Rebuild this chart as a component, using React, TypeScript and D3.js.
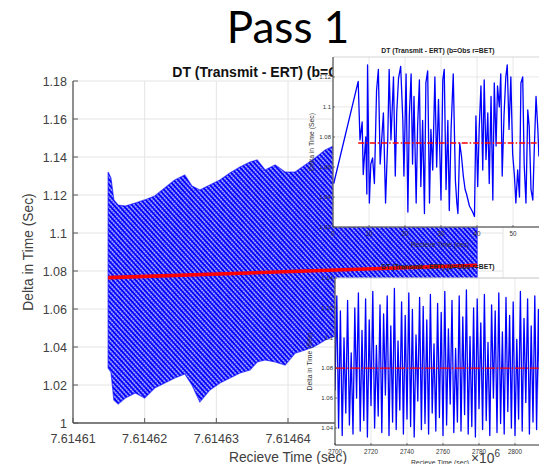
import * as d3 from 'd3';
import React from 'react';

// main scatter: observed cloud envelope (time x1e6 sec, delta sec)
const cloudTimes = [7.6146149, 7.6146153, 7.6146157, 7.6146163, 7.6146173, 7.6146187, 7.61462, 7.6146214, 7.6146228, 7.6146242, 7.6146256, 7.6146266, 7.6146277, 7.6146291, 7.6146305, 7.6146319, 7.6146333, 7.6146347, 7.6146357, 7.6146368, 7.6146382, 7.6146396, 7.614641, 7.6146424, 7.6146438, 7.6146452, 7.6146466, 7.61465, 7.6146556, 7.6146612, 7.6146664];
const cloudUpper = [1.1321, 1.1289, 1.1174, 1.1147, 1.1142, 1.1158, 1.1174, 1.1195, 1.1237, 1.1279, 1.1305, 1.1247, 1.1226, 1.1253, 1.1279, 1.1316, 1.1347, 1.1374, 1.1384, 1.1332, 1.1358, 1.1321, 1.1321, 1.1358, 1.1395, 1.1437, 1.1463, 1.149, 1.1516, 1.154, 1.154];
const cloudLower = [1.0289, 1.0268, 1.0121, 1.01, 1.0132, 1.0158, 1.0132, 1.0184, 1.0211, 1.0237, 1.0258, 1.02, 1.0111, 1.0174, 1.0211, 1.0237, 1.0263, 1.0279, 1.0321, 1.0332, 1.0321, 1.0305, 1.0368, 1.0384, 1.0405, 1.0437, 1.0458, 1.049, 1.054, 1.057, 1.059];
const betTimes = [7.6146149, 7.6146664];
const betDelta = [1.0765, 1.083];
const mainXTicks = [7.61461, 7.61462, 7.61463, 7.61464, 7.61465, 7.61466, 7.61467];
const mainYTicks = [1, 1.02, 1.04, 1.06, 1.08, 1.1, 1.12, 1.14, 1.16, 1.18];

// upper zoom window
const zoomATimes = [0.2, 7.0, 7.5, 8.1, 8.4, 9.1, 9.4, 9.6, 10.1, 10.5, 11.0, 11.5, 12.1, 12.6, 13.1, 14.0, 14.6, 15.2, 15.6, 16.1, 16.8, 17.3, 17.7, 18.2, 18.8, 19.4, 19.7, 20.3, 20.8, 21.2, 21.7, 22.1, 22.5, 23.1, 23.5, 24.0, 24.4, 24.9, 25.4, 25.8, 26.3, 26.8, 27.2, 27.7, 28.3, 28.8, 29.3, 30.0, 30.5, 30.9, 31.4, 31.9, 32.3, 32.8, 33.4, 34.0, 34.4, 34.7, 35.2, 35.7, 36.2, 36.7, 37.1, 37.9, 38.8, 39.3, 39.7, 40.2, 40.6, 41.1, 41.6, 42.0, 42.5, 43.0, 43.4, 43.9, 44.4, 44.8, 45.3, 45.7, 46.2, 46.6, 47.0, 47.5, 48.0, 48.4, 48.9, 49.4, 49.9, 50.4, 50.8, 51.3, 51.8, 52.2, 52.7, 53.1, 53.6, 54.1, 54.5, 55.0, 55.5, 55.9, 56.4, 56.9, 57.2];
const zoomADelta = [1.049, 1.117, 1.078, 1.090, 1.055, 1.080, 1.042, 1.128, 1.036, 1.062, 1.066, 1.049, 1.111, 1.125, 1.062, 1.096, 1.036, 1.078, 1.125, 1.078, 1.120, 1.054, 1.096, 1.119, 1.127, 1.091, 1.054, 1.122, 1.030, 1.094, 1.122, 1.062, 1.107, 1.036, 1.087, 1.118, 1.047, 1.091, 1.029, 1.116, 1.124, 1.036, 1.085, 1.058, 1.120, 1.060, 1.105, 1.038, 1.118, 1.125, 1.045, 1.091, 1.031, 1.085, 1.122, 1.051, 1.036, 1.029, 1.076, 1.067, 1.054, 1.045, 1.042, 1.034, 1.030, 1.027, 1.094, 1.047, 1.085, 1.114, 1.058, 1.118, 1.065, 1.096, 1.049, 1.107, 1.038, 1.116, 1.074, 1.114, 1.100, 1.122, 1.054, 1.094, 1.120, 1.128, 1.085, 1.120, 1.069, 1.054, 1.036, 1.058, 1.040, 1.116, 1.120, 1.062, 1.036, 1.098, 1.087, 1.045, 1.038, 1.071, 1.107, 1.085, 1.067];
const zoomABetTimes = [7, 60];
const zoomABet = [1.076, 1.076];
const zoomAXTicks = [0, 10, 20, 30, 40, 50];
const zoomAYTicks = [1.02, 1.04, 1.06, 1.08, 1.1, 1.12];

// lower zoom window
const zoomBTimes = d3.range(2700, 2826);
const zoomBDelta = [
  1.065, 1.128, 1.040, 1.118, 1.035, 1.100, 1.050, 1.125, 1.042, 1.090,
  1.036, 1.120, 1.060, 1.130, 1.038, 1.105, 1.045, 1.126, 1.034, 1.112,
  1.055, 1.131, 1.040, 1.095, 1.048, 1.122, 1.037, 1.116, 1.062, 1.128,
  1.035, 1.108, 1.044, 1.133, 1.039, 1.098, 1.052, 1.124, 1.036, 1.115,
  1.046, 1.130, 1.041, 1.119, 1.034, 1.102, 1.058, 1.127, 1.039, 1.121,
  1.043, 1.112, 1.036, 1.129, 1.050, 1.096, 1.038, 1.123, 1.047, 1.117,
  1.035, 1.131, 1.042, 1.106, 1.056, 1.125, 1.037, 1.093, 1.044, 1.128,
  1.038, 1.114, 1.049, 1.132, 1.036, 1.101, 1.041, 1.120, 1.034, 1.126,
  1.053, 1.110, 1.039, 1.129, 1.045, 1.097, 1.035, 1.122, 1.060, 1.118,
  1.037, 1.130, 1.043, 1.104, 1.036, 1.127, 1.051, 1.115, 1.040, 1.124,
  1.035, 1.099, 1.046, 1.131, 1.038, 1.113, 1.057, 1.126, 1.036, 1.108,
  1.044, 1.128, 1.039, 1.119, 1.034, 1.103, 1.052, 1.129, 1.041, 1.116,
  1.037, 1.125, 1.048, 1.110, 1.036, 1.121,
];
const zoomBBetTimes = [2700, 2830];
const zoomBBet = [1.08, 1.08];
const zoomBXTicks = [2700, 2720, 2740, 2760, 2780, 2800, 2820];
const zoomBYTicks = [1.04, 1.06, 1.08, 1.1, 1.12, 1.14];

const W = 539;
const H = 464;
const FONT = "'Liberation Sans', Arial, sans-serif";
const BLUE = '#0000ff';
const RED = '#ff0000';

type Inset = {
  id: string;
  x: d3.ScaleLinear<number, number>;
  y: d3.ScaleLinear<number, number>;
  times: number[];
  delta: number[];
  betTimes: number[];
  bet: number[];
  xTicks: number[];
  yTicks: number[];
  titleY: number;
  xLabelY: number;
  yLabelX: number;
  dash: string;
};

function InsetPlot({ p }: { p: Inset }) {
  const [x0, x1] = p.x.range();
  const [y0, y1] = p.y.range(); // bottom, top
  const right = Math.min(x1, W);
  const line = d3.line<number>().x((d, i) => p.x(p.times[i])).y((d) => p.y(d));
  const bet = d3.line<number>().x((d, i) => p.x(p.betTimes[i])).y((d) => p.y(d));
  return (
    <g fontFamily={FONT}>
      <clipPath id={p.id}>
        <rect x={x0} y={y1} width={right - x0} height={y0 - y1} />
      </clipPath>
      <rect x={x0} y={y1} width={right - x0} height={y0 - y1} fill="#fff" />
      {p.xTicks.map((t) => (
        <line key={'gx' + t} x1={p.x(t)} x2={p.x(t)} y1={y1} y2={y0} stroke="#e2e2e2" strokeWidth={0.8} />
      ))}
      {p.yTicks.map((t) => (
        <line key={'gy' + t} x1={x0} x2={right} y1={p.y(t)} y2={p.y(t)} stroke="#e2e2e2" strokeWidth={0.8} />
      ))}
      <g clipPath={`url(#${p.id})`}>
        <path d={line(p.delta) || ''} fill="none" stroke={BLUE} strokeWidth={1.3} strokeLinejoin="round" />
        <path d={bet(p.bet) || ''} fill="none" stroke={RED} strokeWidth={1.3} strokeDasharray={p.dash} />
      </g>
      <line x1={x0} x2={right} y1={y1} y2={y1} stroke="#bbb" strokeWidth={0.6} />
      <line x1={x0} x2={x0} y1={y1} y2={y0} stroke="#333" strokeWidth={1} />
      <line x1={x0} x2={right} y1={y0} y2={y0} stroke="#333" strokeWidth={1} />
      {p.xTicks.map((t) => (
        <g key={'tx' + t}>
          <line x1={p.x(t)} x2={p.x(t)} y1={y0} y2={y0 - 2} stroke="#333" strokeWidth={0.6} />
          <text x={p.x(t)} y={y0 + 9} fontSize={6.3} fill="#333" textAnchor="middle">{t}</text>
        </g>
      ))}
      {p.yTicks.map((t) => (
        <g key={'ty' + t}>
          <line x1={x0} x2={x0 + 2} y1={p.y(t)} y2={p.y(t)} stroke="#333" strokeWidth={0.6} />
          <text x={x0 - 2} y={p.y(t) + 2.2} fontSize={6} fill="#333" textAnchor="end">{t}</text>
        </g>
      ))}
      <text x={438} y={p.titleY} fontSize={6.8} fontWeight="bold" fill="#222" textAnchor="middle">
        DT (Transmit - ERT) (b=Obs r=BET)
      </text>
      <text x={440} y={p.xLabelY} fontSize={6.8} fill="#333" textAnchor="middle">Recieve Time (sec)</text>
      <text
        transform={`translate(${p.yLabelX},${(y0 + y1) / 2}) rotate(-90)`}
        fontSize={6.8}
        fill="#333"
        textAnchor="middle"
      >
        Delta in Time (Sec)
      </text>
    </g>
  );
}

export default function App() {
  const mx = d3.scaleLinear().domain([7.61461, 7.61467]).range([73, 503]);
  const my = d3.scaleLinear().domain([1, 1.18]).range([423, 81]);

  const cloud = d3
    .area<number>()
    .x((d, i) => mx(cloudTimes[i]))
    .y0((d, i) => my(cloudLower[i]))
    .y1((d) => my(d));
  const betLine = d3.line<number>().x((d, i) => mx(betTimes[i])).y((d) => my(d));

  const insetA: Inset = {
    id: 'clipA',
    x: d3.scaleLinear().domain([0, 60]).range([333, 549]),
    y: d3.scaleLinear().domain([1.02, 1.1333]).range([227, 57]),
    times: zoomATimes,
    delta: zoomADelta,
    betTimes: zoomABetTimes,
    bet: zoomABet,
    xTicks: zoomAXTicks,
    yTicks: zoomAYTicks,
    titleY: 53,
    xLabelY: 247,
    yLabelX: 314,
    dash: '6,2,1.5,2',
  };
  const insetB: Inset = {
    id: 'clipB',
    x: d3.scaleLinear().domain([2700, 2830]).range([335, 569]),
    y: d3.scaleLinear().domain([1.0287, 1.14]).range([445, 278]),
    times: zoomBTimes,
    delta: zoomBDelta,
    betTimes: zoomBBetTimes,
    bet: zoomBBet,
    xTicks: zoomBXTicks,
    yTicks: zoomBYTicks,
    titleY: 269,
    xLabelY: 465,
    yLabelX: 312,
    dash: '10,1.5,2,1.5',
  };

  return (
    <div style={{ position: 'absolute', left: 0, top: 0 }}>
      <svg width={W} height={H} style={{ display: 'block', background: '#fff' }}>
        <defs>
          <pattern id="obs" patternUnits="userSpaceOnUse" width={2.6} height={3.4} patternTransform="rotate(48)">
            <rect width={2.6} height={3.4} fill="#fff" />
            <circle cx={1.3} cy={1.7} r={1.45} fill={BLUE} />
          </pattern>
        </defs>

        <text x={288} y={43} fontFamily="Lato, sans-serif" fontSize={44} fill="#000" textAnchor="middle">Pass 1</text>

        {/* main axes grid */}
        <g fontFamily={FONT}>
          {mainXTicks.map((t) => (
            <line key={'mgx' + t} x1={mx(t)} x2={mx(t)} y1={81} y2={423} stroke="#e4e4e4" />
          ))}
          {mainYTicks.map((t) => (
            <line key={'mgy' + t} x1={73} x2={503} y1={my(t)} y2={my(t)} stroke="#e4e4e4" />
          ))}

          <path d={cloud(cloudUpper) || ''} fill="url(#obs)" stroke={BLUE} strokeWidth={1.2} strokeOpacity={0.6} />
          <path d={betLine(betDelta) || ''} stroke={RED} strokeWidth={3.6} fill="none" />

          <line x1={73} x2={73} y1={81} y2={423} stroke="#5a5a5a" strokeWidth={1.3} />
          <line x1={73} x2={503} y1={423} y2={423} stroke="#5a5a5a" strokeWidth={1.3} />
          {mainXTicks.map((t) => (
            <g key={'mtx' + t}>
              <line x1={mx(t)} x2={mx(t)} y1={423} y2={418} stroke="#5a5a5a" strokeWidth={1} />
              <text x={mx(t)} y={443} fontSize={12.5} fill="#404040" textAnchor="middle">
                {d3.format('.5f')(t)}
              </text>
            </g>
          ))}
          {mainYTicks.map((t) => (
            <g key={'mty' + t}>
              <line x1={73} x2={78} y1={my(t)} y2={my(t)} stroke="#5a5a5a" strokeWidth={1} />
              <text x={67} y={my(t) + 4.5} fontSize={12.5} fill="#404040" textAnchor="end">{t}</text>
            </g>
          ))}
          <text x={289} y={77} fontSize={14} fontWeight="bold" fill="#111" textAnchor="middle">
            DT (Transmit - ERT) (b=Obs r=BET)
          </text>
          <text x={288} y={462} fontSize={13.8} fill="#404040" textAnchor="middle">Recieve Time (sec)</text>
          <text x={500} y={463} fontSize={13.8} fill="#404040" textAnchor="end">
            ×10<tspan fontSize={10} dy={-6}>6</tspan>
          </text>
          <text transform="translate(33,252) rotate(-90)" fontSize={13.8} fill="#404040" textAnchor="middle">
            Delta in Time (Sec)
          </text>
        </g>

        <InsetPlot p={insetA} />
        <InsetPlot p={insetB} />
      </svg>
    </div>
  );
}
